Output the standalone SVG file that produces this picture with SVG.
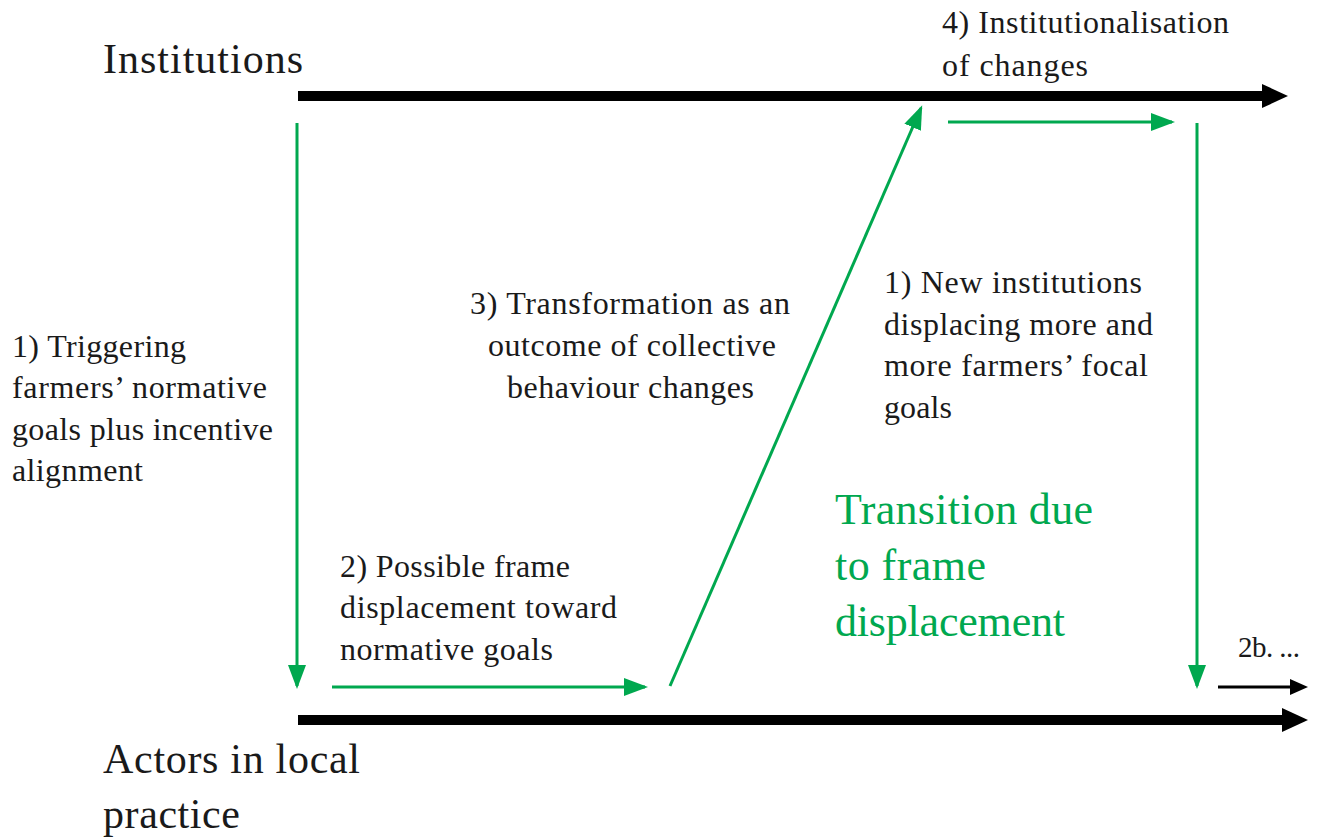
<svg xmlns="http://www.w3.org/2000/svg" width="1320" height="839" viewBox="0 0 1320 839">
<style>
text{font-family:"Liberation Serif","Times New Roman",serif;fill:#1a1a1a}
.big{font-size:42px}
.mid{font-size:32px}
.sm{font-size:29px}
.grn{font-size:44px;fill:#00a84f}
.g{stroke:#00a84f;stroke-width:3;fill:none}
.k{stroke:#000;stroke-width:10;fill:none}
</style>
<defs>
<marker id="ga" markerWidth="8" markerHeight="6" refX="7" refY="3" orient="auto" markerUnits="strokeWidth">
<path d="M0,0 L8,3 L0,6 Z" fill="#00a84f"/>
</marker>
</defs>
<rect width="1320" height="839" fill="#fff"/>
<g id="connectors">
<path class="k" d="M298,96 H1264"/>
<path d="M1262,84 L1288,96 L1262,108 Z" fill="#000"/>
<path class="k" d="M298,720 H1284"/>
<path d="M1282,708 L1308,720 L1282,732 Z" fill="#000"/>
<path stroke="#000" stroke-width="3" d="M1218,687 H1294"/>
<path d="M1290,679 L1308,687 L1290,695 Z" fill="#000"/>
<path class="g" d="M297,123 V686" marker-end="url(#ga)"/>
<path class="g" d="M332,687 H645" marker-end="url(#ga)"/>
<path class="g" d="M670,686 L921,108" marker-end="url(#ga)"/>
<path class="g" d="M948,122 H1172" marker-end="url(#ga)"/>
<path class="g" d="M1197,123 V686" marker-end="url(#ga)"/>
</g>
<g id="institutions"><text class="big" x="103" y="73" textLength="200">Institutions</text></g>
<g id="actors"><text class="big" x="103" y="773" textLength="257">Actors in local</text><text class="big" x="103" y="828" textLength="137">practice</text></g>
<g id="step4"><text class="mid" x="942" y="33" textLength="287">4) Institutionalisation</text><text class="mid" x="942" y="76" textLength="146">of changes</text></g>
<g id="step1"><text class="mid" x="12" y="357" textLength="174">1) Triggering</text><text class="mid" x="12" y="398" textLength="255">farmers’ normative</text><text class="mid" x="12" y="440" textLength="261">goals plus incentive</text><text class="mid" x="12" y="481" textLength="131">alignment</text></g>
<g id="step3"><text class="mid" x="470" y="314" textLength="320">3) Transformation as an</text><text class="mid" x="488" y="356" textLength="288">outcome of collective</text><text class="mid" x="507" y="398" textLength="247">behaviour changes</text></g>
<g id="step1b"><text class="mid" x="884" y="293" textLength="258">1) New institutions</text><text class="mid" x="884" y="335" textLength="269">displacing more and</text><text class="mid" x="884" y="376" textLength="264">more farmers’ focal</text><text class="mid" x="884" y="418" textLength="68">goals</text></g>
<g id="transition"><text class="grn" x="835" y="524" textLength="258">Transition due</text><text class="grn" x="835" y="580" textLength="151">to frame</text><text class="grn" x="835" y="636" textLength="230">displacement</text></g>
<g id="step2"><text class="mid" x="340" y="577" textLength="230">2) Possible frame</text><text class="mid" x="340" y="618" textLength="277">displacement toward</text><text class="mid" x="340" y="660" textLength="213">normative goals</text></g>
<g id="step2b"><text class="sm" x="1238" y="657" textLength="62">2b. ...</text></g>
</svg>
